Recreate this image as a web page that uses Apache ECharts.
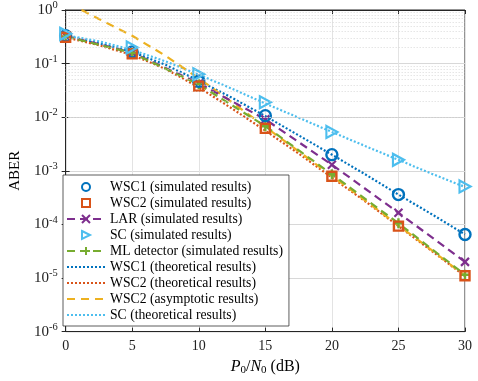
<!DOCTYPE html>
<html>
<head>
<meta charset="utf-8">
<script src="https://cdn.jsdelivr.net/npm/echarts@6/dist/echarts.min.js"></script>
<style>
  html, body { margin: 0; padding: 0; background: #fff; }
  #main { width: 478px; height: 381px; }
</style>
</head>
<body>
<div id="main"></div>
<script>
// simulated points, P0/N0 in dB
var snrSim = [0, 5, 10, 15, 20, 25, 30];
var wsc1Sim = [0.33, 0.165, 0.047, 0.0107, 0.0020, 3.6e-4, 6.5e-5];
var wsc2Sim = [0.31, 0.152, 0.038, 0.0062, 7.9e-4, 9.3e-5, 1.1e-5];
var larSim = [0.33, 0.16, 0.043, 0.0091, 0.0013, 1.65e-4, 2.0e-5];
var scSim = [0.36, 0.20, 0.063, 0.019, 0.0053, 0.0016, 5.1e-4];
var mlSim = [0.32, 0.158, 0.041, 0.0068, 8.6e-4, 1.05e-4, 1.15e-5];

// theoretical curves
var snrTheory = [0, 2.5, 5, 7.5, 10, 12.5, 15, 17.5, 20, 22.5, 25, 27.5, 30];
var wsc1Theory = [0.33, 0.24, 0.165, 0.095, 0.048, 0.023, 0.0105, 0.0046, 0.0020, 8.6e-4, 3.6e-4, 1.55e-4, 6.5e-5];
var wsc2Theory = [0.31, 0.22, 0.145, 0.08, 0.036, 0.0145, 0.0056, 0.0021, 7.5e-4, 2.7e-4, 9.3e-5, 3.2e-5, 1.08e-5];
var scTheory = [0.34, 0.26, 0.18, 0.11, 0.062, 0.034, 0.018, 0.0098, 0.0053, 0.0029, 0.0016, 8.8e-4, 5.0e-4];

// asymptotic curve
var snrAsym = [1.2, 2.5, 5, 7.5, 10, 12.5, 15, 17.5, 20, 22.5, 25, 27.5, 30];
var wsc2Asym = [1.0, 0.68, 0.33, 0.14, 0.053, 0.019, 0.0066, 0.0023, 8.0e-4, 2.8e-4, 9.6e-5, 3.3e-5, 1.1e-5];

function pairs(xs, ys) {
  return xs.map(function (x, i) { return [x, ys[i]]; });
}

// minor grid lines at 2..9 x 10^k
var minorLines = [];
for (var e = -6; e < 0; e++) {
  for (var m = 2; m <= 9; m++) {
    minorLines.push({ yAxis: m * Math.pow(10, e) });
  }
}

var FONT = 'Liberation Serif';
var cBlue = '#0072BD', cOrange = '#D95319', cYellow = '#EDB120',
    cPurple = '#7E2F8E', cGreen = '#77AC30', cCyan = '#4DBEEE';

var xPath = 'path://M0,0 L10,10 M10,0 L0,10';
var plusPath = 'path://M5,0 L5,10 M0,5 L10,5';
var triPath = 'path://M0,0 L10,5 L0,10 Z';

var noMark = { opacity: 0 };

var chart = echarts.init(document.getElementById('main'), null, { renderer: 'canvas' });

chart.setOption({
  animation: false,
  textStyle: { fontFamily: FONT },
  grid: { left: 52, right: 13, top: 10, bottom: 46, containLabel: false,
    show: true, borderColor: '#262626', borderWidth: 1 },
  legend: {
    orient: 'vertical',
    left: 63, top: 175,
    padding: [5, 6, 4, 3],
    itemWidth: 38, itemHeight: 10, itemGap: 2,
    backgroundColor: '#fff',
    borderColor: '#333', borderWidth: 0.8,
    textStyle: { fontFamily: FONT, fontSize: 13.7, color: '#000' },
    data: [
      'WSC1 (simulated results)', 'WSC2 (simulated results)', 'LAR (simulated results)',
      'SC (simulated results)', 'ML detector (simulated results)',
      { name: 'WSC1 (theoretical results)', itemStyle: noMark },
      { name: 'WSC2 (theoretical results)', itemStyle: noMark },
      { name: 'WSC2 (asymptotic results)', itemStyle: noMark },
      { name: 'SC (theoretical results)', itemStyle: noMark }
    ]
  },
  xAxis: [{
    type: 'value', min: 0, max: 30, interval: 5,
    name: '{i|P}{s|0}{n|/}{i|N}{s|0}{n| (dB)}',
    nameLocation: 'middle', nameGap: 24,
    nameTextStyle: {
      rich: {
        i: { fontFamily: FONT, fontStyle: 'italic', fontSize: 16, color: '#000' },
        n: { fontFamily: FONT, fontSize: 16, color: '#000' },
        s: { fontFamily: FONT, fontSize: 11, color: '#000', verticalAlign: 'bottom', padding: [8, 0, 0, 0] }
      }
    },
    axisLine: { show: true, lineStyle: { color: '#262626' } },
    axisTick: { show: true, inside: true, length: 4, lineStyle: { color: '#262626' } },
    axisLabel: { fontFamily: FONT, fontSize: 14, color: '#222', margin: 8 },
    splitLine: { show: true, lineStyle: { color: '#e3e3e3', width: 1 } }
  }, {
    type: 'value', min: 0, max: 30, interval: 5, position: 'top',
    axisLine: { show: true, lineStyle: { color: '#262626' } },
    axisTick: { show: true, inside: true, length: 4, lineStyle: { color: '#262626' } },
    axisLabel: { show: false }, splitLine: { show: false }
  }],
  yAxis: [{
    type: 'log', min: 1e-6, max: 1, logBase: 10,
    name: 'ABER', nameLocation: 'middle', nameGap: 38,
    nameTextStyle: { fontFamily: FONT, fontSize: 15, color: '#000' },
    axisLine: { show: true, lineStyle: { color: '#262626' } },
    axisTick: { show: true, inside: true, length: 4, lineStyle: { color: '#262626' } },
    axisLabel: {
      margin: 8,
      formatter: function (v) {
        var ex = Math.round(Math.log10(v));
        return '{b|10}{s|' + ex + '}';
      },
      rich: {
        b: { fontFamily: FONT, fontSize: 15, color: '#222' },
        s: { fontFamily: FONT, fontSize: 10.5, color: '#222', verticalAlign: 'top', padding: [0, 0, 9, 0] }
      }
    },
    splitLine: { show: true, lineStyle: { color: '#d8d8d8', width: 1 } }
  }, {
    type: 'log', min: 1e-6, max: 1, logBase: 10, position: 'right',
    axisLine: { show: true, lineStyle: { color: '#262626' } },
    axisTick: { show: true, inside: true, length: 4, lineStyle: { color: '#262626' } },
    axisLabel: { show: false }, splitLine: { show: false }
  }],
  series: [
    {
      name: 'grid-minor', type: 'line', data: [], z: 0, silent: true,
      markLine: {
        silent: true, symbol: 'none', label: { show: false },
        lineStyle: { type: [1, 2], color: '#cfcfcf', width: 0.8 },
        data: minorLines
      }
    },
    {
      name: 'WSC1 (theoretical results)', type: 'line', data: pairs(snrTheory, wsc1Theory),
      symbol: 'none', lineStyle: { color: cBlue, width: 2.2, type: [2, 2] }, itemStyle: { color: cBlue }
    },
    {
      name: 'WSC2 (theoretical results)', type: 'line', data: pairs(snrTheory, wsc2Theory),
      symbol: 'none', lineStyle: { color: cOrange, width: 2.2, type: [2, 2] }, itemStyle: { color: cOrange }
    },
    {
      name: 'SC (theoretical results)', type: 'line', data: pairs(snrTheory, scTheory),
      symbol: 'none', lineStyle: { color: cCyan, width: 2.2, type: [2, 2] }, itemStyle: { color: cCyan }
    },
    {
      name: 'WSC2 (asymptotic results)', type: 'line', data: pairs(snrAsym, wsc2Asym),
      symbol: 'none', lineStyle: { color: cYellow, width: 2.2, type: [8, 6] }, itemStyle: { color: cYellow }
    },
    {
      name: 'LAR (simulated results)', type: 'line', data: pairs(snrSim, larSim),
      symbol: xPath, symbolSize: 8,
      lineStyle: { color: cPurple, width: 2.2, type: [8, 5] },
      itemStyle: { color: cPurple, borderColor: cPurple, borderWidth: 2.2 }
    },
    {
      name: 'ML detector (simulated results)', type: 'line', data: pairs(snrSim, mlSim),
      symbol: plusPath, symbolSize: 10,
      lineStyle: { color: cGreen, width: 2.2, type: [8, 5] },
      itemStyle: { color: cGreen, borderColor: cGreen, borderWidth: 2.4 }
    },
    {
      name: 'WSC1 (simulated results)', type: 'line', data: pairs(snrSim, wsc1Sim),
      symbol: 'circle', symbolSize: 11,
      lineStyle: { width: 0 },
      itemStyle: { color: 'transparent', borderColor: cBlue, borderWidth: 2.4 }
    },
    {
      name: 'WSC2 (simulated results)', type: 'line', data: pairs(snrSim, wsc2Sim),
      symbol: 'rect', symbolSize: 9,
      lineStyle: { width: 0 },
      itemStyle: { color: 'transparent', borderColor: cOrange, borderWidth: 2.4 }
    },
    {
      name: 'SC (simulated results)', type: 'line', data: pairs(snrSim, scSim),
      symbol: triPath, symbolSize: [11, 12],
      lineStyle: { width: 0 },
      itemStyle: { color: 'transparent', borderColor: cCyan, borderWidth: 2.2 }
    }
  ]
});
</script>
</body>
</html>
